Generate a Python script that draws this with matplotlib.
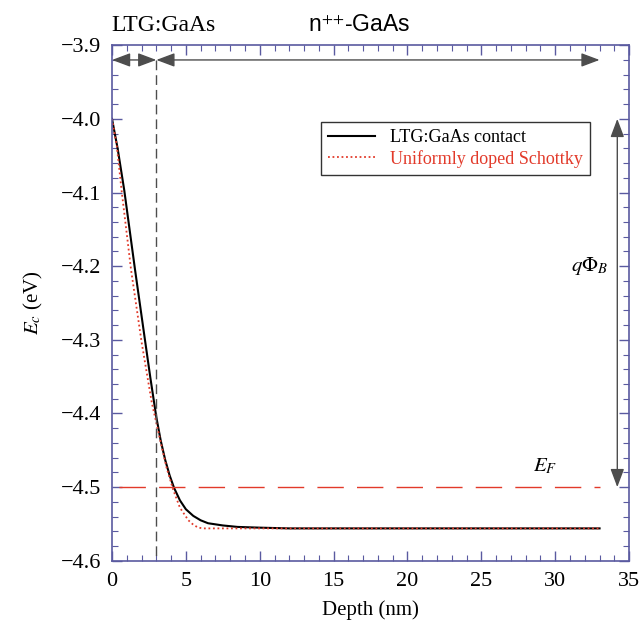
import numpy as np
import matplotlib.pyplot as plt

# === data ===
x_ltg = [0.0, 0.38, 0.83, 1.56, 2.23, 2.6, 3.0, 3.3, 3.6, 3.9, 4.2, 4.6,
         5.0, 5.5, 6.0, 6.5, 7.5, 8.5, 10.0, 12.0, 33.0]
e_ltg = [-4.0, -4.04, -4.097, -4.205, -4.300, -4.352, -4.405, -4.437, -4.463,
         -4.484, -4.501, -4.518, -4.530, -4.539, -4.545, -4.549, -4.552,
         -4.554, -4.555, -4.556, -4.556]

x_sch = [0.0, 0.32, 0.66, 1.29, 2.01, 2.69, 3.25, 3.7, 4.15, 4.6, 5.17,
         5.5, 5.84, 6.2, 33.0]
e_sch = [-4.0, -4.036, -4.099, -4.205, -4.304, -4.385, -4.435, -4.474, -4.504,
         -4.528, -4.545, -4.551, -4.555, -4.556, -4.556]

E_F = -4.5
x_ef = [0.5, 33.0]
x_iface = 3.0
x_end = 33.0
phi_top, phi_bot = -4.0, -4.5
y_ticks = [-4.6, -4.5, -4.4, -4.3, -4.2, -4.1, -4.0, -3.9]

FRAME = '#5a5aa0'
RED = '#e23a2a'

plt.rcParams['font.family'] = ['Liberation Serif', 'DejaVu Serif']
plt.rcParams['mathtext.fontset'] = 'stix'

fig = plt.figure(figsize=(6.4, 6.28), dpi=100)
ax = fig.add_axes([0.175, 0.107, 0.808, 0.821])

ax.plot(x_ltg, e_ltg, color='black', lw=1.5, label='LTG:GaAs contact')
ax.plot(x_sch, e_sch, color=RED, lw=1.3, ls=(0, (1, 1.5)),
        label='Uniformly doped Schottky')
ax.plot(x_ef, [E_F, E_F], color=RED, lw=1.0, ls=(0, (19, 9.5)))
ax.plot([x_iface, x_iface], [-3.92, -4.6], color='0.3', lw=1.0,
        ls=(0, (7, 3.6)))

# arrows marking layers
arr = dict(arrowstyle='<|-|>,head_length=0.8,head_width=0.3',
           color='0.3', lw=1.0, shrinkA=0, shrinkB=0, mutation_scale=14)
ax.annotate('', xy=(0, -3.92), xytext=(x_iface, -3.92), arrowprops=arr)
ax.annotate('', xy=(x_iface, -3.92), xytext=(x_end, -3.92), arrowprops=arr)
ax.annotate('', xy=(34.2, phi_top), xytext=(34.2, phi_bot), arrowprops=arr)

ax.text(32.3, -4.2, r'$q\Phi_B$', fontsize=15, ha='center', va='center')
ax.text(29.3, -4.472, r'$E_F$', fontsize=15, ha='center', va='center')
ax.text(3.5, -3.8735, 'LTG:GaAs', fontsize=17, ha='center', va='center',
        family='Liberation Serif')
ax.text(16.7, -3.8735, r'n$^{{+}{+}}$-GaAs', fontsize=16.5, ha='center',
        va='center', family='Liberation Sans')

ax.set_xlim(0, 35)
ax.set_ylim(-4.6, -3.9)
ax.set_xticks(np.arange(0, 36, 5))
ax.set_xticks(np.arange(0, 36, 1), minor=True)
ax.set_yticks(y_ticks)
ax.set_yticks(np.arange(-4.6, -3.89, 0.02), minor=True)
ax.set_yticklabels(['\u2212%.1f' % abs(v) for v in y_ticks])
ax.set_xlabel('Depth (nm)', fontsize=15, labelpad=7)
ax.set_ylabel(r'$E_c$ (eV)', fontsize=15, labelpad=11)

for s in ax.spines.values():
    s.set_color(FRAME)
    s.set_linewidth(1.2)
ax.tick_params(which='both', direction='in', top=True, right=True,
               color=FRAME, labelsize=16)
ax.tick_params(which='major', length=7, width=1.0, pad=8)
ax.tick_params(which='minor', length=4, width=0.8)

leg = ax.legend(loc='upper left', bbox_to_anchor=(0.404, 0.851), fontsize=13,
                frameon=True, fancybox=False, edgecolor='black',
                handlelength=2.6, borderpad=0.4, labelspacing=0.2,
                borderaxespad=0)
leg.get_frame().set_linewidth(1.0)
leg.get_texts()[1].set_color(RED)

fig.savefig('out.png', dpi=100)
